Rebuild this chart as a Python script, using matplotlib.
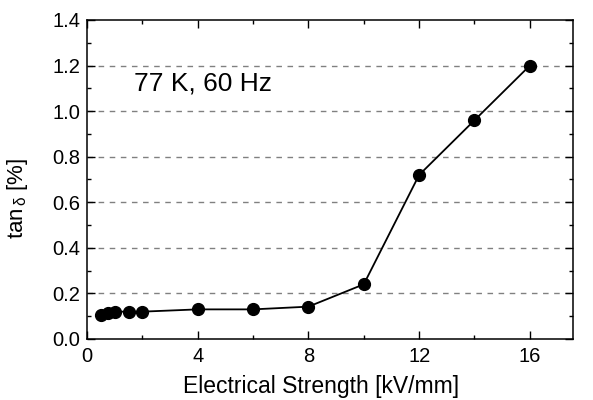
import matplotlib
matplotlib.use("Agg")
import matplotlib.pyplot as plt
from matplotlib.ticker import MultipleLocator

field = [0.5, 0.75, 1.0, 1.5, 2.0, 4.0, 6.0, 8.0, 10.0, 12.0, 14.0, 16.0]
tan_delta = [0.105, 0.115, 0.12, 0.12, 0.12, 0.13, 0.13, 0.142, 0.24, 0.72, 0.96, 1.20]

plt.rcParams['font.family'] = ['Liberation Sans', 'DejaVu Sans']
plt.rcParams['mathtext.fontset'] = 'custom'
plt.rcParams['mathtext.rm'] = 'Liberation Sans'
plt.rcParams['mathtext.it'] = 'Liberation Sans'

fig = plt.figure(figsize=(5.93, 4.0), dpi=100)
ax = fig.add_axes([0.1467, 0.1525, 0.8196, 0.7975])

for y in [0.2, 0.4, 0.6, 0.8, 1.0, 1.2]:
    ax.axhline(y, color='#808080', lw=1.0, ls=(0, (4, 4)), zorder=1)

ax.plot(field, tan_delta, color='black', lw=1.3, marker='o', ms=8.5,
        mfc='black', mec='black', zorder=3)

ax.set_xlim(0, 17.56)
ax.set_ylim(0, 1.4)
ax.xaxis.set_major_locator(MultipleLocator(4))
ax.xaxis.set_minor_locator(MultipleLocator(2))
ax.yaxis.set_major_locator(MultipleLocator(0.2))
ax.yaxis.set_minor_locator(MultipleLocator(0.1))
ax.yaxis.set_major_formatter(plt.FormatStrFormatter('%.1f'))

ax.tick_params(which='both', direction='in', top=True, right=True, width=1.0,
               labelsize=14.5)
ax.tick_params(axis='x', which='both', pad=6)
ax.tick_params(axis='y', which='both', pad=5)
ax.tick_params(which='major', length=6)
ax.tick_params(which='minor', length=3)
for s in ax.spines.values():
    s.set_linewidth(1.1)

ax.set_xlabel('Electrical Strength [kV/mm]', fontsize=16.5)
ax.set_ylabel(r'tan$_{\,\mathrm{\delta}}$ [%]', fontsize=16)
ax.xaxis.set_label_coords(0.481, -0.114)
ax.yaxis.set_label_coords(-0.118, 0.44)

ax.text(1.7, 1.12, '77 K, 60 Hz', fontsize=19, va='center', ha='left')

fig.savefig('out.png', dpi=100)
